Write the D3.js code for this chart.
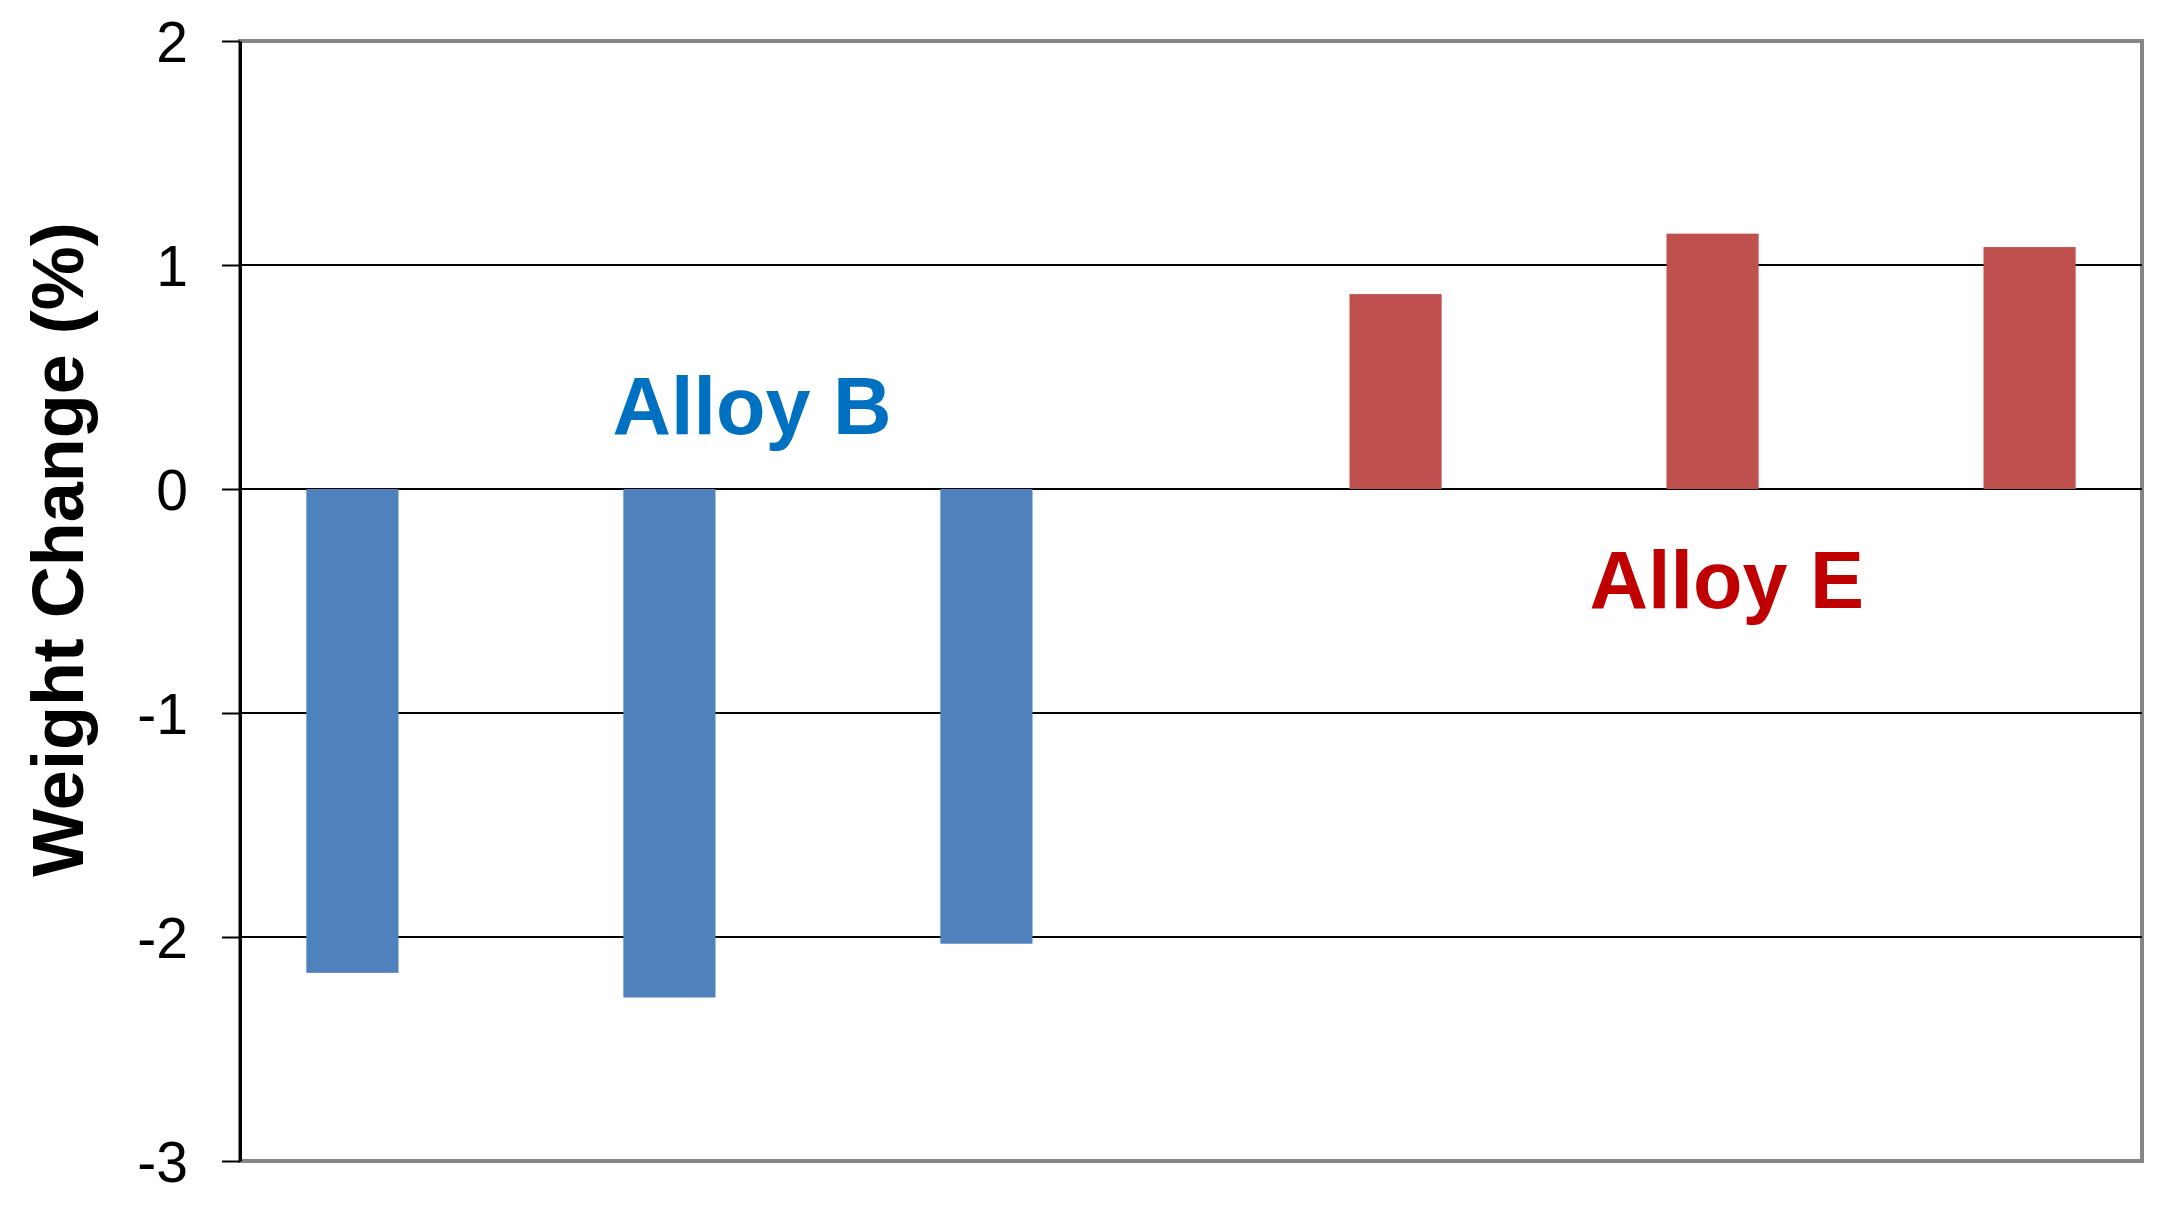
<!DOCTYPE html>
<html>
<head>
<meta charset="utf-8">
<script src="https://cdn.jsdelivr.net/npm/d3@7"></script>
<style>
  body { margin: 0; background: #fff; }
  svg { display: block; font-family: "Liberation Sans", Arial, sans-serif; }
</style>
</head>
<body>
<div id="chart"></div>
<script>
// data
var categories = ["B-1", "B-2", "B-3", "E-1", "E-2", "E-3"];
var series = ["Alloy B", "Alloy E"];
var alloyB = [-2.16, -2.27, -2.03, null, null, null];
var alloyE = [null, null, null, 0.87, 1.14, 1.08];
var yTicks = [-3, -2, -1, 0, 1, 2];
var gridVals = [-2, -1, 0, 1];
// annotation positions in category units / data units
var labels = [
    { text: "Alloy B", u: 1.615, v: 0.245, color: "#0070C0" },
    { text: "Alloy E", u: 4.69, v: -0.53, color: "#C00000" }
];
var colors = { "Alloy B": "#4F81BD", "Alloy E": "#C0504D" };

var width = 2175, height = 1211;
var margin = { top: 41, right: 33, bottom: 50, left: 240 };
var w = width - margin.left - margin.right,
    h = height - margin.top - margin.bottom;

var svg = d3.select("#chart")
    .append("svg")
    .attr("width", width)
    .attr("height", height);

svg.append("rect")
    .attr("width", width)
    .attr("height", height)
    .attr("fill", "white");

var g = svg.append("g")
    .attr("transform", "translate(" + margin.left + "," + margin.top + ")");

var x0 = d3.scaleBand()
    .domain(categories)
    .range([0, w])
    .padding(0);

var x1 = d3.scaleBand()
    .domain(series)
    .range([0, x0.bandwidth()])
    .paddingInner(0)
    .paddingOuter(0.72);

var y = d3.scaleLinear()
    .domain([-3, 2])
    .range([h, 0]);

var xPos = d3.scaleLinear()
    .domain([0, categories.length])
    .range([0, w]);

// plot area border (grey)
g.append("rect")
    .attr("x", 0).attr("y", 0)
    .attr("width", w).attr("height", h)
    .attr("fill", "none")
    .attr("stroke", "#868686")
    .attr("stroke-width", 4);

// gridlines
g.append("g")
    .selectAll("line")
    .data(gridVals)
    .enter()
    .append("line")
    .attr("x1", 0).attr("x2", w)
    .attr("y1", function(d) { return y(d); })
    .attr("y2", function(d) { return y(d); })
    .attr("stroke", "#000")
    .attr("stroke-width", 2);

// bars
var rows = categories.map(function(c, i) {
    return { cat: c, values: [{ s: "Alloy B", v: alloyB[i] }, { s: "Alloy E", v: alloyE[i] }] };
});

g.append("g")
    .selectAll("g")
    .data(rows)
    .enter()
    .append("g")
    .attr("transform", function(d) { return "translate(" + x0(d.cat) + ",0)"; })
    .selectAll("rect")
    .data(function(d) { return d.values.filter(function(e) { return e.v != null; }); })
    .enter()
    .append("rect")
    .attr("x", function(d) { return x1(d.s); })
    .attr("width", x1.bandwidth())
    .attr("y", function(d) { return y(Math.max(0, d.v)); })
    .attr("height", function(d) { return Math.abs(y(d.v) - y(0)); })
    .attr("fill", function(d) { return colors[d.s]; });

// y axis
var yAxis = g.append("g")
    .attr("class", "axis")
    .call(d3.axisLeft(y)
        .tickValues(yTicks)
        .tickSize(18)
        .tickSizeOuter(0)
        .tickPadding(34)
        .tickFormat(function(d) { return String(d); }));

yAxis.select(".domain")
    .attr("stroke", "#000")
    .attr("stroke-width", 3);
yAxis.selectAll(".tick line")
    .attr("stroke", "#000")
    .attr("stroke-width", 2);
yAxis.selectAll(".tick text")
    .attr("fill", "#000")
    .attr("dy", "0.36em")
    .style("font-size", "57px")
    .style("font-family", "'Liberation Sans', Arial, sans-serif");

// y axis label
svg.append("text")
    .attr("transform", "translate(83," + (margin.top + y(-0.27)) + ") rotate(-90)")
    .attr("text-anchor", "middle")
    .style("font-size", "72px")
    .style("font-weight", "bold")
    .attr("fill", "#000")
    .text("Weight Change (%)");

// series labels
g.selectAll(".lbl")
    .data(labels)
    .enter()
    .append("text")
    .attr("class", "lbl")
    .attr("x", function(d) { return xPos(d.u); })
    .attr("y", function(d) { return y(d.v); })
    .attr("text-anchor", "middle")
    .style("font-size", "81px")
    .style("font-weight", "bold")
    .attr("fill", function(d) { return d.color; })
    .text(function(d) { return d.text; });
</script>
</body>
</html>
